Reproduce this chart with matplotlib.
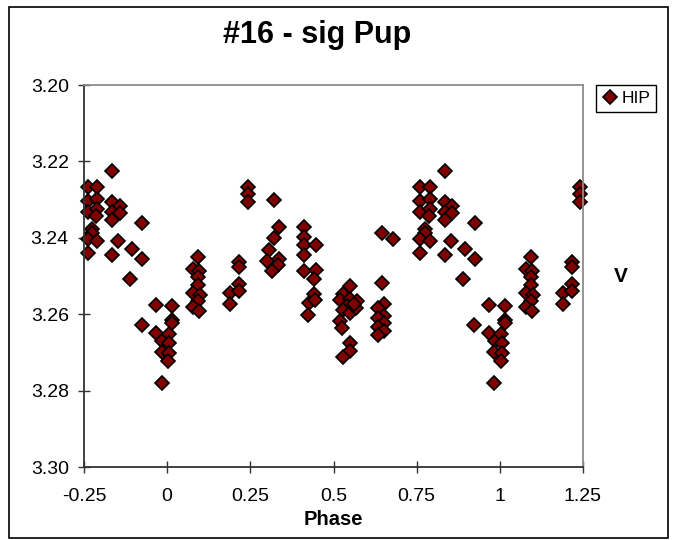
import matplotlib
matplotlib.use("Agg")
import matplotlib.pyplot as plt
from matplotlib.lines import Line2D
from matplotlib.patches import Rectangle

plt.rcParams['font.family'] = ['Liberation Sans', 'DejaVu Sans']

title = "#16 - sig Pup"
series_name = "HIP"
x_label = "Phase"
y_label = "V"
x_ticks = [-0.25, 0, 0.25, 0.5, 0.75, 1, 1.25]
x_tick_labels = ["-0.25", "0", "0.25", "0.5", "0.75", "1", "1.25"]
y_ticks = [3.20, 3.22, 3.24, 3.26, 3.28, 3.30]
y_tick_labels = ["3.20", "3.22", "3.24", "3.26", "3.28", "3.30"]

# phase-folded observations (phase in [0,1))
phase = [
    # minimum
    0.966, 0.966, 0.985, 0.983, 0.983, 0.0145, 0.0145, 0.0145, 0.0045, 0.006, 0.006, 0.003, 0.923,
    # ~0.09
    0.094, 0.079, 0.097, 0.094, 0.094, 0.079, 0.099, 0.094, 0.079, 0.097,
    # ~0.2
    0.189, 0.189, 0.217, 0.217, 0.217, 0.217,
    # ~0.24
    0.242, 0.242, 0.242,
    # ~0.32
    0.320, 0.335, 0.322, 0.305, 0.301, 0.335, 0.333, 0.315,
    # ~0.42
    0.412, 0.412, 0.412, 0.448, 0.412, 0.412, 0.448, 0.442, 0.442, 0.425, 0.444, 0.423,
    # ~0.54
    0.551, 0.530, 0.520, 0.551, 0.571, 0.540, 0.530, 0.551, 0.568, 0.520, 0.526, 0.551, 0.551, 0.530, 0.561,
    # ~0.65
    0.646, 0.678, 0.646, 0.653, 0.633, 0.653, 0.633, 0.653, 0.633, 0.653, 0.633,
    # ~0.8
    0.835, 0.761, 0.789, 0.761, 0.789, 0.761, 0.789, 0.787, 0.835, 0.857, 0.835, 0.857, 0.835,
    0.924, 0.774, 0.774, 0.761, 0.789, 0.852, 0.761, 0.835, 0.895, 0.924, 0.889,
]
mag = [
    3.2575, 3.2649, 3.2670, 3.2700, 3.2779, 3.2579, 3.2616, 3.2623, 3.2652, 3.2675, 3.2701, 3.2722, 3.2628,
    3.2450, 3.2481, 3.2487, 3.2503, 3.2524, 3.2544, 3.2550, 3.2565, 3.2581, 3.2591,
    3.2544, 3.2572, 3.2463, 3.2476, 3.2520, 3.2539,
    3.2266, 3.2285, 3.2305,
    3.2300, 3.2372, 3.2400, 3.2433, 3.2462, 3.2456, 3.2472, 3.2487,
    3.2372, 3.2398, 3.2420, 3.2420, 3.2446, 3.2487, 3.2485, 3.2509, 3.2548, 3.2570, 3.2563, 3.2603,
    3.2527, 3.2546, 3.2563, 3.2559, 3.2565, 3.2578, 3.2590, 3.2597, 3.2585, 3.2617, 3.2635, 3.2675, 3.2696, 3.2713, 3.2572,
    3.2388, 3.2404, 3.2518, 3.2574, 3.2585, 3.2605, 3.2611, 3.2624, 3.2633, 3.2643, 3.2655,
    3.2226, 3.2266, 3.2266, 3.2304, 3.2298, 3.2333, 3.2324, 3.2344, 3.2307, 3.2316, 3.2333, 3.2336, 3.2353,
    3.2362, 3.2376, 3.2388, 3.2403, 3.2409, 3.2409, 3.2440, 3.2446, 3.2430, 3.2455, 3.2507,
]

xmin, xmax = -0.25, 1.25
px, py = [], []
for p, m in zip(phase, mag):
    for shift in (-1, 0, 1):
        q = p + shift
        if xmin <= q <= xmax:
            px.append(q)
            py.append(m)

W, H = 677, 540
fig = plt.figure(figsize=(W / 100, H / 100), dpi=100)
ax = fig.add_axes([84 / W, 1 - 467 / H, (583 - 84) / W, (467 - 85) / H])

MS = 6.8
ax.plot(px, py, linestyle='none', marker='D', markersize=MS,
        markerfacecolor='#800000', markeredgecolor='black', markeredgewidth=1.2,
        label=series_name, clip_on=False)

ax.set_xlim(xmin, xmax)
ax.set_ylim(3.30, 3.20)
ax.set_xticks(x_ticks)
ax.set_xticklabels(x_tick_labels)
ax.set_yticks(y_ticks)
ax.set_yticklabels(y_tick_labels)
ax.tick_params(axis='both', direction='inout', length=8, width=1, labelsize=14, color='#333333')
ax.tick_params(axis='x', pad=11)
ax.tick_params(axis='y', pad=7)

for s in ('left', 'bottom'):
    ax.spines[s].set_color('#333333')
    ax.spines[s].set_linewidth(1.3)
for s in ('top', 'right'):
    ax.spines[s].set_color('#8c8c8c')
    ax.spines[s].set_linewidth(1.3)

ax.set_xlabel(x_label, fontsize=14.5, fontweight='bold', labelpad=4)

fig.text(621 / W, 1 - 276 / H, y_label, fontsize=15, fontweight='bold',
         ha='center', va='center')
fig.text(317 / W, 1 - 43 / H, title, fontsize=22, fontweight='bold',
         ha='center', va='baseline')

handle = Line2D([], [], linestyle='none', marker='D', markersize=MS,
                markerfacecolor='#800000', markeredgecolor='black', markeredgewidth=1.2)
leg = fig.legend([handle], [series_name], loc='upper left',
                 bbox_to_anchor=(596 / W, 1 - 85 / H), fontsize=12.5,
                 frameon=True, fancybox=False, edgecolor='black', framealpha=1,
                 handlelength=0.9, handletextpad=0.2, borderpad=0.35, borderaxespad=0)
leg.get_frame().set_linewidth(1.0)

fig.patches.append(Rectangle((9 / W, 2 / H), (668 - 9) / W, (533 - 2) / H,
                             transform=fig.transFigure, fill=False,
                             edgecolor='black', linewidth=1.2))

fig.savefig("out.png", dpi=100)
